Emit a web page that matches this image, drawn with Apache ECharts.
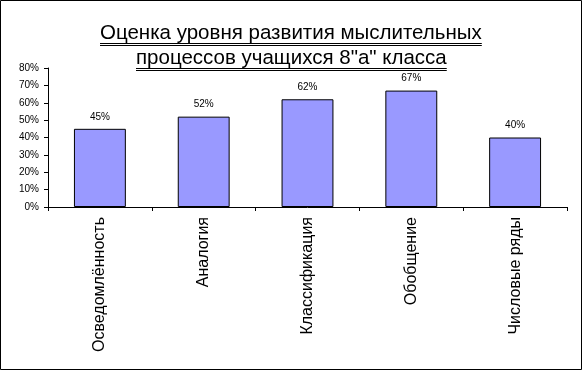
<!DOCTYPE html>
<html><head><meta charset="utf-8">
<script src="https://cdn.jsdelivr.net/npm/echarts@6/dist/echarts.min.js"></script>
<style>html,body{margin:0;padding:0;background:#fff}#c{width:583px;height:371px}</style>
</head><body><div id="c"></div>
<script>
var categories = ['Осведомлённость','Аналогия','Классификация','Обобщение','Числовые ряды'];
var values = [45, 52, 62, 67, 40];
var yTicks = [0,10,20,30,40,50,60,70,80];
var titleLines = ['Оценка уровня развития мыслительных','процессов учащихся 8"а" класса'];

var FONT = 'Liberation Sans, Arial, sans-serif';
var chart = echarts.init(document.getElementById('c'), null, {renderer:'canvas'});
var W = 583, H = 371;
var ctx = document.createElement('canvas').getContext('2d');
var tSize = 20.5;
ctx.font = tSize + 'px ' + FONT;
var cx = 291;
var baselines = [40.5, 65.5];
var graphics = [];
titleLines.forEach(function(t, i){
  var w = ctx.measureText(t).width;
  var x0 = Math.round(cx - w/2);
  graphics.push({type:'text', left: x0, top: baselines[i] - 0.93*tSize + 1.5, style:{text:t, font: tSize+'px '+FONT, fill:'#000'}, silent:true});
  graphics.push({type:'line', shape:{x1:x0, y1:Math.round(baselines[i])+2.5, x2:x0+w, y2:Math.round(baselines[i])+2.5}, style:{stroke:'#000', lineWidth:1}, silent:true});
  graphics.push({type:'line', shape:{x1:x0, y1:Math.round(baselines[i])+4.5, x2:x0+w, y2:Math.round(baselines[i])+4.5}, style:{stroke:'#000', lineWidth:1}, silent:true});
});
graphics.push({type:'rect', shape:{x:0.5, y:0.5, width:W-2, height:H-2}, style:{fill:'none', stroke:'#000', lineWidth:1}, silent:true});

chart.setOption({
  animation:false,
  backgroundColor:'#fff',
  graphic: graphics,
  grid:{left:48, right:16, top:68, bottom:164, containLabel:false},
  xAxis:{type:'category', data:categories,
    axisLine:{lineStyle:{color:'#000', width:1}},
    axisTick:{show:true, length:4, lineStyle:{color:'#000'}},
    axisLabel:{rotate:90, interval:0, margin:10, color:'#000', fontFamily:FONT, fontSize:16}
  },
  yAxis:{type:'value', min:yTicks[0], max:yTicks[yTicks.length-1], interval:10,
    axisLine:{show:true, lineStyle:{color:'#000', width:1}},
    axisTick:{show:true, length:4, lineStyle:{color:'#000'}},
    splitLine:{show:false},
    axisLabel:{margin:9, color:'#000', fontFamily:FONT, fontSize:10, formatter:'{value}%'}
  },
  series:[{type:'bar', data:values, barWidth:'50%',
    itemStyle:{color:'#9999FF', borderColor:'#000', borderWidth:1},
    label:{show:true, position:'top', distance:7, color:'#000', fontFamily:FONT, fontSize:10, formatter:'{c}%'}
  }]
});
</script></body></html>
